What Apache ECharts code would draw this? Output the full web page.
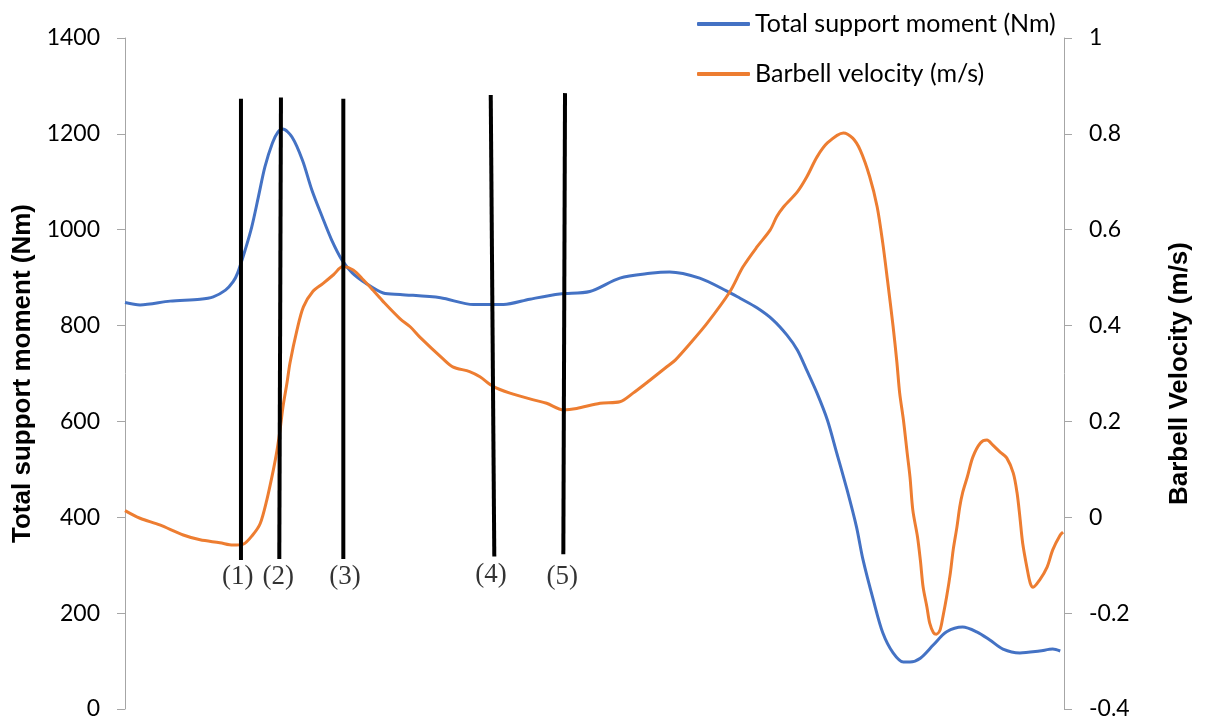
<!DOCTYPE html>
<html>
<head>
<meta charset="utf-8">
<script src="https://cdn.jsdelivr.net/npm/echarts@6/dist/echarts.min.js"></script>
<style>
html,body{margin:0;padding:0;background:#fff;}
#chart{width:1205px;height:722px;}
</style>
</head>
<body>
<div id="chart"></div>
<script>
// ---- Data (x = % of lift) ----
const momentX = [0,1.6,4.8,8.0,9.4,10.7,11.5,12.0,12.8,13.5,14.2,14.9,15.7,16.3,16.8,17.8,18.9,19.9,21.0,22.0,23.1,24.2,25.6,27.5,29.3,33.6,37.1,40.3,43.1,46.3,49.5,52.7,55.9,58.0,61.2,64.1,65.5,67.3,69.0,70.5,71.6,72.6,73.7,74.8,75.8,76.9,77.9,78.6,79.7,80.7,81.8,82.9,83.6,84.7,86.1,87.5,89.2,90.7,92.1,93.5,95.3,97.4,98.8,99.6];
const momentY = [848,843,851,855,860,874,891,910,958,1006,1068,1131,1181,1204,1210,1193,1145,1083,1027,979,937,910,889,868,865,858,844,844,855,866,871,899,909,912,899,872,857,837,812,780,749,707,659,603,534,457,380,311,227,159,117,98,98,106,134,161,171,161,144,125,117,121,125,121];

const velocityX = [0,1.6,3.7,6.2,8.0,10.1,11.5,12.6,13.6,14.4,15.1,15.8,16.19,16.51,16.83,17.25,17.57,18.32,19.0,20.0,21.1,22.2,23.2,24.3,25.4,26.4,27.5,29.3,30.4,31.4,33.9,34.9,36.7,37.8,39.2,41.0,43.5,44.9,46.7,48.1,50.6,52.7,54.1,55.9,57.7,58.6,60.2,62.0,64.4,65.8,67.3,68.7,69.4,70.1,71.6,72.6,73.7,74.8,76.5,77.5,78.3,79.3,80.1,80.7,81.2,81.8,82.2,82.5,82.9,83.3,83.6,83.9,84.4,84.7,85.0,85.4,85.7,86.1,86.4,86.8,87.1,87.5,87.9,88.2,88.6,88.9,89.2,89.7,90.3,91.1,91.8,92.4,93.2,93.9,94.6,95.0,95.3,95.6,96.1,96.4,96.7,97.4,98.2,98.8,99.6,99.9];
const velocityY = [0.014,-0.002,-0.016,-0.037,-0.047,-0.053,-0.058,-0.056,-0.037,-0.013,0.036,0.099,0.140,0.182,0.231,0.280,0.322,0.391,0.439,0.471,0.488,0.506,0.523,0.516,0.495,0.474,0.450,0.414,0.397,0.376,0.330,0.314,0.304,0.293,0.273,0.259,0.245,0.238,0.224,0.227,0.238,0.241,0.259,0.286,0.314,0.328,0.363,0.405,0.470,0.522,0.564,0.599,0.627,0.647,0.679,0.710,0.752,0.781,0.802,0.791,0.766,0.711,0.648,0.572,0.495,0.398,0.324,0.259,0.203,0.134,0.084,0.015,-0.041,-0.089,-0.146,-0.187,-0.221,-0.241,-0.244,-0.235,-0.208,-0.166,-0.116,-0.068,-0.020,0.022,0.051,0.084,0.126,0.155,0.161,0.151,0.136,0.124,0.092,0.051,0.001,-0.054,-0.110,-0.137,-0.146,-0.131,-0.104,-0.068,-0.037,-0.031];

// Phase markers (drawn in left-axis units)
const markerLabels = ['(1)','(2)','(3)','(4)','(5)'];
const markerTopX = [12.35,16.61,23.25,38.95,46.86];
const markerTopY = [1273,1276,1273,1281,1285];
const markerBottomX = [12.35,16.43,23.25,39.33,46.68];
const markerBottomY = [311,313,313,318,323];
const markerLabelX = [12.0,16.33,23.43,38.98,46.57];
const markerLabelY = [276,275,275,280,275];

const leftTicks = {min:0, max:1400, interval:200};
const rightTicks = {min:-0.4, max:1, interval:0.2};

const seriesNames = ['Total support moment (Nm)','Barbell velocity (m/s)'];
const leftTitle = 'Total support moment (Nm)';
const rightTitle = 'Barbell Velocity (m/s)';

// ---- Build ----
const zip = (xs, ys) => xs.map((x, i) => [x, ys[i]]);
const tickFont = 'Lato';
const axisGray = '#a6a6a6';

const series = [
  {
    name: seriesNames[0], type: 'line', yAxisIndex: 0,
    data: zip(momentX, momentY), showSymbol: false, symbol: 'none', smooth: 0.3,
    lineStyle: {color: '#4472C4', width: 3}, itemStyle: {color: '#4472C4'}, z: 2
  },
  {
    name: seriesNames[1], type: 'line', yAxisIndex: 1,
    data: zip(velocityX, velocityY), showSymbol: false, symbol: 'none', smooth: 0.3,
    lineStyle: {color: '#ED7D31', width: 3}, itemStyle: {color: '#ED7D31'}, z: 2
  }
];
markerLabels.forEach((lab, i) => {
  series.push({
    type: 'line', yAxisIndex: 0, silent: true, symbol: 'none',
    data: [[markerTopX[i], markerTopY[i]], [markerBottomX[i], markerBottomY[i]]],
    lineStyle: {color: '#000', width: 4}, z: 5
  });
});
series.push({
  type: 'scatter', yAxisIndex: 0, silent: true, symbolSize: 0,
  data: markerLabels.map((lab, i) => ({value: [markerLabelX[i], markerLabelY[i]], name: lab})),
  label: {show: true, position: 'inside', formatter: p => p.name, color: '#000',
          fontFamily: 'Liberation Serif', fontSize: 27},
  z: 6
});

const chart = echarts.init(document.getElementById('chart'), null, {renderer: 'canvas'});
chart.setOption({
  animation: false,
  backgroundColor: '#fff',
  grid: {left: 125, right: 141, top: 38, bottom: 13, containLabel: false},
  legend: {
    data: seriesNames, orient: 'vertical', left: 692, top: 5,
    itemWidth: 53, itemHeight: 4, itemGap: 22, icon: 'roundRect',
    textStyle: {fontFamily: tickFont, fontSize: 25, color: '#000', lineHeight: 28},
    selectedMode: false
  },
  xAxis: {type: 'value', min: 0, max: 100, show: false},
  yAxis: [
    {
      type: 'value', position: 'left', min: leftTicks.min, max: leftTicks.max, interval: leftTicks.interval,
      axisLine: {show: true, lineStyle: {color: axisGray, width: 1}},
      axisTick: {show: true, inside: false, length: 8, lineStyle: {color: axisGray}},
      splitLine: {show: false},
      axisLabel: {margin: 25, color: '#000', fontFamily: tickFont, fontSize: 23,
                  formatter: v => String(v)},
      name: leftTitle, nameLocation: 'middle', nameRotate: 90, nameGap: 88,
      nameTextStyle: {fontFamily: 'Liberation Sans', fontWeight: 'bold', fontSize: 26, color: '#000'}
    },
    {
      type: 'value', position: 'right', min: rightTicks.min, max: rightTicks.max, interval: rightTicks.interval,
      axisLine: {show: true, lineStyle: {color: axisGray, width: 1}},
      axisTick: {show: true, inside: false, length: 8, lineStyle: {color: axisGray}},
      splitLine: {show: false},
      axisLabel: {margin: 25, color: '#000', fontFamily: tickFont, fontSize: 23,
                  formatter: v => String(Math.round(v * 10) / 10)},
      name: rightTitle, nameLocation: 'middle', nameRotate: 90, nameGap: 103,
      nameTextStyle: {fontFamily: 'Liberation Sans', fontWeight: 'bold', fontSize: 26, color: '#000'}
    }
  ],
  series: series
});
</script>
</body>
</html>
